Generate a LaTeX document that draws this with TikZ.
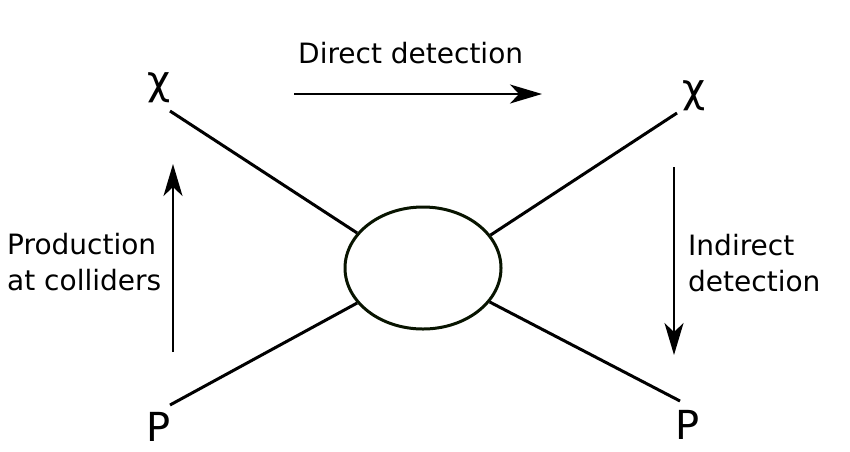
\documentclass[tikz,border=0pt]{standalone}
\usepackage{fontspec}
\setmainfont{DejaVu Sans}
\usetikzlibrary{arrows.meta,shapes.geometric,positioning}
\definecolor{blobline}{RGB}{8,20,0}

\begin{document}
\begin{tikzpicture}[x=1pt,y=-1pt,>={Stealth[length=32pt,width=19pt,inset=9pt]},
            leg/.style={line width=3pt},
            flow/.style={->,line width=2pt},
            particle/.style={font=\fontsize{40}{48}\selectfont,inner sep=0pt,anchor=base},
            caption/.style={font=\fontsize{28}{36}\selectfont,inner sep=0pt,align=left,anchor=north west}]
            \useasboundingbox (0,0) rectangle (850,451);

            \node   [draw=blobline,line width=3pt,ellipse,inner sep=0pt,
                     minimum width=156pt,minimum height=122pt]  (blob)  at (423,268) {};

            \node   [particle]      (chiL)  at (159,94)     {χ};
            \node   [particle]      (chiR)  at (694,102)    {χ};
            \node   [particle]      (pL)    at (159,441)    {P};
            \node   [particle]      (pR)    at (688,439)    {P};

            \coordinate (legUL) at (170,111);
            \coordinate (legUR) at (677,113);
            \coordinate (legLL) at (170,405);
            \coordinate (legLR) at (680,401);

            \draw   [leg]   (legUL) -- (blob.152);
            \draw   [leg]   (legUR) -- (blob.26);
            \draw   [leg]   (legLL) -- (blob.208);
            \draw   [leg]   (legLR) -- (blob.333);

            \coordinate (directA) at (294,94);
            \coordinate (directB) at (542,94);
            \coordinate (prodA)   at (173,352);
            \coordinate (prodB)   at (173,164);
            \coordinate (indirA)  at (674,167);
            \coordinate (indirB)  at (674,355);

            \draw   [flow]  (directA) -- (directB);
            \draw   [flow]  (prodA) -- (prodB);
            \draw   [flow]  (indirA) -- (indirB);

            \node   [caption]   (direct)    at (298,42)     {Direct detection};
            \node   [caption]   (prod)      at (7,233)      {Production\\at colliders};
            \node   [caption]   (indirect)  at (688,234)    {Indirect\\detection};
\end{tikzpicture}
\end{document}
